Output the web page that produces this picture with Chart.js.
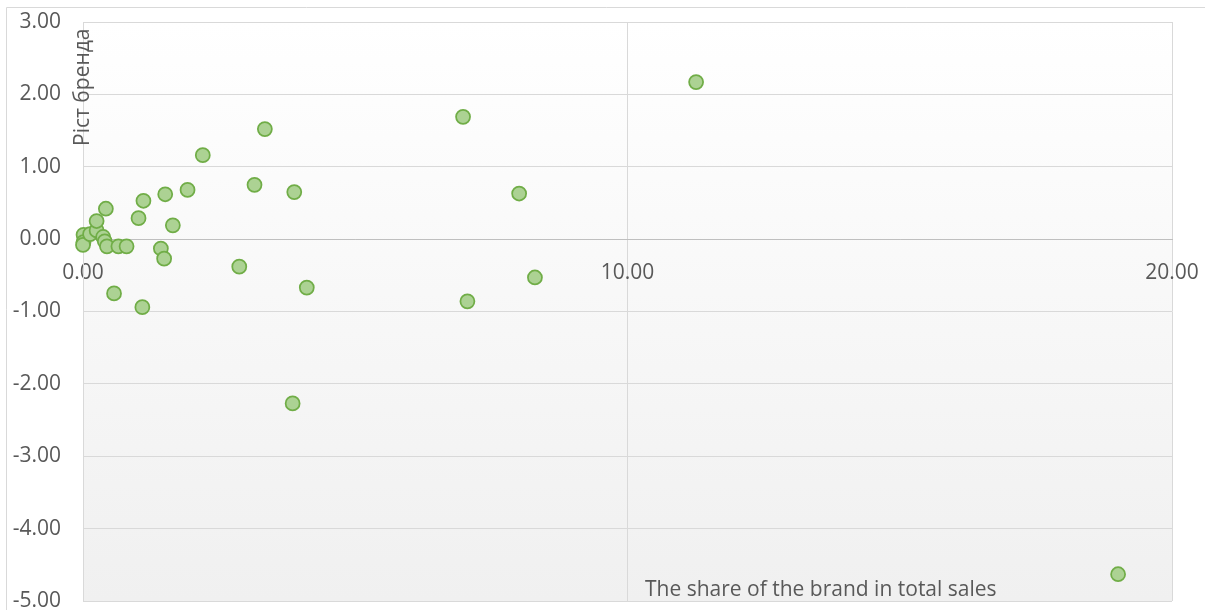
<!DOCTYPE html>
<html>
<head>
<meta charset="utf-8">
<script src="https://cdn.jsdelivr.net/npm/chart.js@4/dist/chart.umd.min.js"></script>
<style>
  html, body { margin: 0; padding: 0; background: #ffffff; }
  #wrap { position: relative; width: 1205px; height: 610px; }
</style>
</head>
<body>
<div id="wrap"><canvas id="c" width="1205" height="610"></canvas></div>
<script>
// Brand share in total sales (x) and brand growth (y)
const shareX = [11.26, 6.98, 3.34, 2.20, 3.15, 3.88, 1.92, 1.51, 8.01, 1.11, 1.02, 1.65, 1.43, 1.49, 2.87, 8.30, 4.11, 0.57, 7.06, 1.09, 3.85, 19.01,
                0.42, 0.01, 0.01, 0.00, 0.13, 0.25, 0.25, 0.37, 0.40, 0.44, 0.65, 0.80];
const growthY = [2.17, 1.69, 1.52, 1.16, 0.75, 0.65, 0.68, 0.62, 0.63, 0.53, 0.29, 0.19, -0.13, -0.27, -0.38, -0.53, -0.67, -0.75, -0.86, -0.94, -2.27, -4.63,
                 0.42, 0.06, -0.04, -0.08, 0.07, 0.12, 0.25, 0.03, -0.03, -0.10, -0.10, -0.10];
const xTicks = [0, 10, 20];
const yTicks = [3, 2, 1, 0, -1, -2, -3, -4, -5];
const xTitle = 'The share of the brand in total sales';
const yTitle = 'Ріст бренда';

const FONT = '"Open Sans", "DejaVu Sans", sans-serif';
const TEXT = '#595959';

const points = shareX.map((x, i) => ({ x: x, y: growthY[i] }));

const decor = {
  id: 'decor',
  beforeDraw(chart) {
    const { ctx, chartArea: a } = chart;
    ctx.save();
    // outer chart border
    ctx.strokeStyle = '#d9d9d9';
    ctx.lineWidth = 1;
    ctx.beginPath();
    ctx.moveTo(6.5, 620);
    ctx.lineTo(6.5, 7.5);
    ctx.lineTo(1210, 7.5);
    ctx.stroke();
    // plot area gradient
    const g = ctx.createLinearGradient(0, a.top, 0, a.bottom);
    g.addColorStop(0, '#ffffff');
    g.addColorStop(1, '#f0f0f0');
    ctx.fillStyle = g;
    ctx.fillRect(a.left, a.top, a.right - a.left, a.bottom - a.top);
    ctx.restore();
  },
  afterDraw(chart) {
    const { ctx, chartArea: a } = chart;
    ctx.save();
    ctx.fillStyle = TEXT;
    ctx.font = '21px ' + FONT;
    // y title, rotated, at the y axis
    ctx.translate(a.left, 146);
    ctx.rotate(-Math.PI / 2);
    ctx.textAlign = 'left';
    ctx.textBaseline = 'middle';
    ctx.fillText(yTitle, 0, 0);
    ctx.restore();
    ctx.save();
    ctx.fillStyle = TEXT;
    ctx.font = '21px ' + FONT;
    ctx.textAlign = 'left';
    ctx.textBaseline = 'middle';
    ctx.fillText(xTitle, 645, 590);
    ctx.restore();
  }
};

new Chart(document.getElementById('c'), {
  type: 'scatter',
  data: {
    datasets: [{
      data: points,
      clip: false,
      backgroundColor: '#acd293',
      borderColor: '#70ad47',
      borderWidth: 1.75,
      pointRadius: 7,
      pointHoverRadius: 7
    }]
  },
  options: {
    responsive: false,
    animation: false,
    layout: { padding: { left: 0, right: 33, top: 22, bottom: 9 } },
    plugins: { legend: { display: false }, tooltip: { enabled: false } },
    scales: {
      x: {
        type: 'linear',
        position: { y: 0 },
        min: 0, max: 20,
        afterBuildTicks: (s) => { s.ticks = xTicks.map(v => ({ value: v })); },
        afterFit: (s) => { s.height = 0; s.paddingLeft = 0; s.paddingRight = 0; },
        grid: { color: '#d9d9d9', lineWidth: 1, drawTicks: false },
        border: { display: true, color: '#bfbfbf', width: 1 },
        ticks: {
          padding: 21,
          color: TEXT,
          font: { family: FONT, size: 21 },
          maxRotation: 0,
          callback: (v) => Number(v).toFixed(2)
        }
      },
      y: {
        type: 'linear',
        position: 'left',
        min: -5, max: 3,
        afterBuildTicks: (s) => { s.ticks = yTicks.slice().reverse().map(v => ({ value: v })); },
        afterFit: (s) => { s.width = 83; s.paddingTop = 0; s.paddingBottom = 0; },
        grid: { color: '#d9d9d9', lineWidth: 1, drawTicks: false },
        border: { display: true, color: '#d9d9d9', width: 1 },
        ticks: {
          padding: 22,
          color: TEXT,
          font: { family: FONT, size: 21 },
          callback: (v) => Number(v).toFixed(2)
        }
      }
    }
  },
  plugins: [decor]
});
</script>
</body>
</html>
